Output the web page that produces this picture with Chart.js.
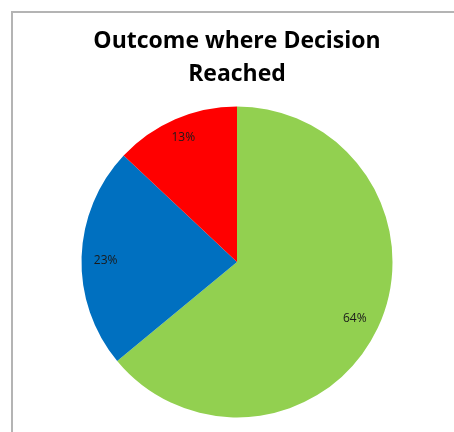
<!DOCTYPE html>
<html>
<head>
<meta charset="utf-8">
<script src="https://cdn.jsdelivr.net/npm/chart.js@4.4.1/dist/chart.umd.min.js"></script>
<style>
  html, body { margin: 0; padding: 0; background: #fff; overflow: hidden; }
  #wrap { position: relative; width: 454px; height: 432px; }
  #frame {
    position: absolute; left: 11px; top: 11px; width: 500px; height: 500px;
    border-left: 2px solid #b4b4b4; border-top: 2px solid #b4b4b4;
  }
  canvas { position: absolute; left: 0; top: 0; }
</style>
</head>
<body>
<div id="wrap">
  <div id="frame"></div>
  <canvas id="chart-outcome" width="454" height="432"></canvas>
</div>
<script>
// Outcome shares, clockwise from 12 o'clock
const categorias = ['Decision A', 'Decision B', 'Decision C'];
const porcentajes = [64, 23, 13];
const etiquetas = ['64%', '23%', '13%'];
const colores = ['#92D050', '#0070C0', '#FF0000'];

// Percent labels drawn inside each slice
const etiquetasPie = {
  id: 'etiquetasPie',
  afterDatasetsDraw(chart, args, opts) {
    const ctx = chart.ctx;
    const meta = chart.getDatasetMeta(0);
    ctx.save();
    ctx.font = opts.font;
    ctx.fillStyle = opts.color;
    ctx.textAlign = 'center';
    ctx.textBaseline = 'middle';
    meta.data.forEach((arc, i) => {
      const p = arc.getProps(['x', 'y', 'startAngle', 'endAngle', 'outerRadius'], true);
      const mid = (p.startAngle + p.endAngle) / 2 + (opts.shift[i] || 0);
      const r = p.outerRadius * opts.radio[i];
      ctx.fillText(etiquetas[i], p.x + Math.cos(mid) * r, p.y + Math.sin(mid) * r);
    });
    ctx.restore();
  }
};

new Chart(document.getElementById('chart-outcome'), {
  type: 'pie',
  data: {
    labels: categorias,
    datasets: [{
      data: porcentajes,
      backgroundColor: colores,
      borderWidth: 0
    }]
  },
  plugins: [etiquetasPie],
  options: {
    responsive: false,
    animation: false,
    layout: { padding: { left: 81.5, right: 61.5, top: 0, bottom: 14.5 } },
    plugins: {
      legend: { display: false },
      tooltip: { enabled: false },
      title: {
        display: true,
        text: ['Outcome where Decision', 'Reached'],
        color: '#000',
        font: { family: "'Open Sans', sans-serif", size: 23, weight: 'bold', lineHeight: 1.43 },
        padding: { top: 25, bottom: 15.5 }
      },
      etiquetasPie: {
        font: "12px 'Open Sans', sans-serif",
        color: '#1a1a1a',
        radio: [0.84, 0.845, 0.87],
        shift: [0.007, -0.024, 0]
      }
    }
  }
});
</script>
</body>
</html>
